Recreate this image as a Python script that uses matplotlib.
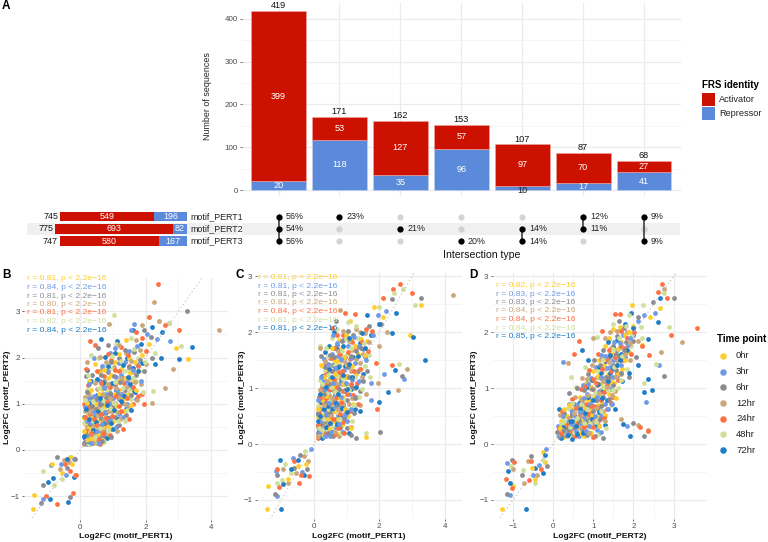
import matplotlib
matplotlib.use('Agg')
import matplotlib.pyplot as plt
from matplotlib.patches import Rectangle

plt.rcParams['font.family'] = ['Liberation Sans', 'DejaVu Sans']

W, H = 768, 542

# panel A
bar_activator = [399, 53, 127, 57, 97, 70, 27]
bar_repressor = [20, 118, 35, 96, 10, 17, 41]
bar_total = [419, 171, 162, 153, 107, 87, 68]
set_names = ['motif_PERT1', 'motif_PERT2', 'motif_PERT3']
set_activator = [549, 693, 580]
set_repressor = [196, 82, 167]
set_total = [745, 775, 747]
members = [[0, 1, 2], [0], [1], [2], [1, 2], [0, 1], [0, 2]]
member_pct = [[56, 54, 56], [23], [21], [20], [14, 14], [12, 11], [9, 9]]

ACT = '#CC1100'
REP = '#5B8ADB'

time_points = ['0hr', '3hr', '6hr', '12hr', '24hr', '48hr', '72hr']
time_colors = ['#FFCE2E', '#6F9AE8', '#8A8C92', '#CBA77B', '#FF7043', '#CFE09B', '#1F7DC6']

r_b = ['0.81', '0.84', '0.81', '0.80', '0.81', '0.82', '0.84']
r_c = ['0.81', '0.81', '0.81', '0.81', '0.84', '0.81', '0.81']
r_d = ['0.82', '0.83', '0.83', '0.84', '0.84', '0.84', '0.85']

b_0hr = [(-1.44,-1.27),(-1.4,-.97),(-.85,-.3),(-.55,-.5),(-.3,-.15),(-.25,-.3),(3.29,1.96),(2.93,2.21),(.15,.15),(.22,.3),(.3,.12),(.18,.55),(.25,.78),(.35,.42),(.42,.22),(.5,.62),(.2,1.02),(.4,.95),(.55,.35),(.62,.85),(.7,.5),(.32,1.3),(.8,.72),(.9,1.05),(.58,1.22),(1.0,.62),(.75,1.45),(1.1,.95),(1.2,1.3),(.95,1.62),(1.35,.85),(1.45,1.2),(1.6,1.5),(1.25,1.75),(1.8,1.7),(1.9,2.05),(.45,1.85),(2.1,2.3),(1.4,2.38),(.68,.22)]
b_0hr += [(.28,.5),(.36,.7),(.46,.44),(.52,1.0),(.64,.62),(.74,.94),(.86,.52),(.96,.86),(1.06,1.2),(.68,1.32),(.84,1.55),(1.14,1.46),(1.3,1.1),(1.52,1.66),(1.38,1.55),(1.66,1.9),(1.05,1.9),(.58,1.68),(1.18,2.08),(1.5,2.0),(.26,1.5),(.2,.22),(.12,.42),(.1,.7),(.72,1.72),(1.72,1.3),(1.56,.98),(.34,.24)]
b_3hr = [(-1.15,-1.06),(-.88,-.33),(-.6,-.3),(-.45,-.55),(-.2,-.2),(2.76,2.35),(1.65,2.72),(.12,.28),(.2,.12),(.28,.42),(.16,.7),(.38,.2),(.46,.55),(.3,.9),(.6,.3),(.52,.78),(.72,.42),(.24,1.12),(.66,1.02),(.85,.55),(.42,1.16),(.98,.85),(.8,1.22),(1.08,.5),(.6,1.5),(1.18,1.1),(1.3,.72),(.92,1.42),(1.42,1.0),(1.1,1.58),(1.55,1.35),(1.7,1.1),(1.38,1.9),(1.75,1.85),(.42,2.0),(.9,2.1),(2.05,2.5),(1.55,2.6),(2.35,2.4),(1.2,.78)]
b_3hr += [(.22,.62),(.34,.6),(.18,.26),(.42,.82),(.5,.42),(.56,1.08),(.68,.56),(.76,.82),(.9,.68),(.88,1.02),(1.0,1.12),(.72,1.34),(1.12,1.3),(.84,1.72),(1.26,1.2),(1.44,1.48),(1.26,1.62),(1.62,1.72),(.66,1.82),(1.18,1.88),(1.5,2.14),(.28,1.42),(.14,.92),(.56,.16),(1.86,1.5),(1.06,2.2),(1.75,2.25),(.32,.16)]
b_6hr = [(-1.19,-1.14),(-1.13,-.76),(-.7,-.15),(-.4,-.38),(-.32,-1.02),(-.15,-.2),(3.26,3.0),(2.7,2.75),(.18,.2),(.26,.15),(.14,.42),(.34,.3),(.4,.68),(.2,.92),(.5,.15),(.58,.52),(.32,1.12),(.74,.3),(.7,.82),(.18,1.6),(.5,1.1),(.9,.45),(.88,.98),(1.05,.72),(.68,1.35),(1.18,.55),(.85,1.68),(1.28,1.02),(1.4,.75),(1.05,1.4),(1.5,1.55),(1.65,1.28),(1.2,2.0),(1.95,1.7),(.85,2.28),(2.2,2.0),(2.15,2.45),(1.95,2.6),(.55,2.2),(.95,.28)]
b_6hr += [(.3,.56),(.24,.34),(.44,.4),(.36,.96),(.48,.88),(.62,.7),(.82,.6),(.78,1.12),(.98,.94),(.6,1.0),(.92,1.24),(.74,1.5),(1.16,1.22),(1.02,1.6),(1.36,1.3),(1.22,1.46),(1.56,1.18),(1.48,1.8),(1.72,1.62),(.36,1.62),(.62,1.62),(.94,1.9),(1.36,2.16),(1.65,2.12),(1.82,1.95),(.22,1.26),(.66,.2),(.12,.16)]
b_12hr = [(-.62,-.42),(-.35,-.25),(-.5,-.22),(-.15,-.55),(2.26,3.2),(4.23,2.59),(.89,2.72),(2.85,1.76),(2.58,1.35),(2.2,1.02),(.13,.12),(.24,.22),(.2,.5),(.3,.65),(.44,.36),(.14,.85),(.54,.2),(.36,.86),(.62,.64),(.8,.36),(.28,1.22),(.72,.95),(.5,1.32),(.96,.6),(1.05,1.02),(.82,1.15),(1.22,.68),(.62,1.72),(1.3,1.22),(1.02,1.8),(1.5,.92),(1.6,1.68),(1.85,1.42),(1.4,2.1),(1.72,2.38),(2.0,1.85),(2.4,2.78),(1.9,2.7),(.2,1.9),(1.12,.42)]
b_12hr += [(.18,.36),(.32,.3),(.28,.82),(.42,.54),(.5,.76),(.66,.42),(.58,.94),(.76,.66),(.88,.84),(.7,1.2),(.92,1.12),(1.14,.82),(1.2,1.14),(.86,1.42),(1.08,1.34),(1.38,1.0),(1.44,1.36),(1.24,1.56),(1.68,1.48),(1.56,1.92),(.44,1.45),(.8,1.9),(1.2,2.26),(1.84,2.16),(.16,1.14),(.4,.14),(1.74,1.08),(.6,2.02)]
b_24hr = [(2.37,3.58),(3.01,2.6),(-.71,-1.17),(-1.06,-1.0),(-.21,-.94),(-.12,-.55),(-.48,-.3),(-.3,-.45),(.16,.18),(.3,.25),(.22,.62),(.12,1.0),(.38,.5),(.48,.3),(.3,.78),(.6,.12),(.55,.95),(.76,.52),(.44,1.08),(.92,.32),(.66,1.18),(.86,.85),(1.12,.52),(.25,1.4),(1.0,1.15),(1.3,.45),(.72,1.6),(1.2,.95),(1.48,.68),(1.35,1.45),(.95,1.95),(1.62,1.0),(1.88,1.2),(1.5,1.82),(.45,2.28),(.3,2.35),(1.25,2.22),(2.1,2.88),(2.6,2.7),(2.0,2.15),(1.95,1.0)]
b_24hr += [(.2,.42),(.26,.94),(.42,.68),(.34,.36),(.52,.54),(.64,.78),(.58,.24),(.7,.36),(.82,1.04),(.78,.7),(.98,.74),(.92,1.36),(1.1,1.16),(.62,1.44),(1.26,.84),(1.42,1.12),(1.18,1.7),(1.6,1.36),(1.76,1.82),(.5,1.7),(.84,2.08),(1.06,1.74),(.18,1.76),(1.45,2.06),(1.9,2.42),(1.7,2.55),(.14,.72),(1.78,1.16)]
b_48hr = [(-1.14,-.45),(-.8,-.75),(-.55,-.62),(-.28,-.15),(1.03,2.91),(3.08,2.24),(2.24,1.27),(2.4,2.8),(2.72,2.75),(2.1,2.88),(.17,.32),(.12,.58),(.28,.12),(.35,.55),(.48,.45),(.24,.85),(.72,.18),(.56,.72),(.38,1.05),(.78,.62),(.62,1.06),(.2,1.3),(.95,.48),(.88,1.28),(1.1,.82),(.46,1.5),(.7,1.82),(1.25,1.12),(1.38,.62),(1.15,1.5),(1.55,1.1),(1.72,1.5),(1.45,1.72),(1.78,2.0),(1.1,2.3),(1.55,2.42),(2.3,2.1),(.32,2.05),(1.92,1.25),(.42,.14)]
b_48hr += [(.22,.18),(.3,.38),(.4,.62),(.5,.9),(.44,.28),(.6,.48),(.66,.88),(.84,.42),(.72,1.06),(.9,.9),(.8,1.32),(1.02,1.02),(1.16,.62),(.56,1.34),(1.3,1.34),(1.06,1.48),(.94,1.78),(1.34,1.7),(1.62,1.56),(1.5,1.3),(1.26,1.92),(.24,1.62),(.54,1.98),(1.64,2.18),(1.42,.86),(.16,1.08),(1.98,1.9),(.98,2.04)]
b_72hr = [(-.94,-1.07),(-.38,-1.12),(-.19,-.59),(-.82,-.6),(-.42,-.2),(-1.0,-.7),(3.41,2.22),(3.02,1.96),(.15,.25),(.2,.42),(.36,.16),(.12,.72),(.3,.52),(.45,.28),(.28,1.02),(.42,.72),(.64,.42),(.5,1.18),(.82,.25),(.76,.78),(.34,1.5),(.64,.98),(1.0,.45),(.92,1.2),(.22,1.72),(1.16,.68),(.78,1.35),(1.1,1.3),(1.4,.88),(.64,2.41),(1.6,1.78),(1.28,1.55),(1.68,1.25),(1.12,2.35),(1.6,2.6),(1.85,2.3),(2.2,2.65),(2.5,2.55),(2.47,2.0),(2.3,1.85)]
b_72hr += [(.24,.2),(.26,.66),(.38,.44),(.48,.6),(.54,.84),(.72,.58),(.6,1.12),(.86,.7),(.94,.58),(.82,.98),(1.04,.86),(.7,1.44),(.98,1.44),(1.24,1.06),(1.34,1.16),(1.46,1.58),(1.52,1.42),(1.76,1.7),(1.42,1.98),(.5,1.54),(.86,1.82),(.76,2.02),(1.3,1.84),(1.05,2.1),(1.9,1.88),(.12,.3),(.18,.88),(1.56,.86)]

# panel C
c_0hr = [(-1.43,-1.16),(-1.39,-.75),(-.8,-.62),(-.5,-.4),(-.25,-.35),(2.93,1.95),(3.29,2.48),(.12,.15),(.2,.3),(.14,.48),(.28,.12),(.34,.38),(.18,.72),(.46,.18),(.4,.62),(.24,.92),(.6,.42),(.52,.8),(.72,.18),(.35,1.05),(.7,.68),(.85,.35),(.58,1.02),(.9,.85),(.42,1.3),(1.05,.5),(.78,1.2),(1.1,1.05),(.6,1.5),(1.2,.72),(1.0,1.42),(1.3,1.25),(.85,1.72),(1.35,1.62),(1.15,1.9),(1.6,.12),(1.62,1.85),(1.85,2.45),(1.1,2.2),(2.1,2.28)]
c_0hr += [(.22,.2),(.3,.54),(.12,.62),(.26,.78),(.44,.44),(.5,.28),(.36,.86),(.62,.6),(.74,.44),(.48,1.14),(.68,.92),(.8,.82),(.96,.62),(.3,1.2),(.66,1.26),(.88,1.08),(1.02,1.2),(.72,1.48),(.92,1.56),(1.16,1.4),(1.26,1.76),(1.44,1.88),(.76,1.86),(.98,1.96),(1.56,1.6),(.54,1.72),(1.12,.28),(.22,1.42)]
c_3hr = [(-1.13,-.92),(-.09,-.08),(-1.15,-.48),(-.65,-.25),(-.35,-.5),(2.76,1.16),(2.15,1.25),(1.75,.78),(.16,.12),(.25,.2),(.13,.35),(.3,.48),(.42,.3),(.2,.62),(.5,.15),(.55,.58),(.28,.85),(.66,.3),(.42,.95),(.75,.52),(.3,1.15),(.62,.85),(.88,.22),(.9,.7),(.5,1.2),(1.02,.42),(.72,1.05),(1.08,.9),(.55,1.62),(1.15,1.15),(.92,1.32),(1.3,.85),(.75,1.58),(1.25,1.45),(1.05,1.75),(1.5,1.7),(1.75,1.1),(.58,1.95),(1.8,1.95),(2.2,2.38),(1.95,2.3)]
c_3hr += [(.18,.22),(.34,.14),(.24,.42),(.38,.56),(.46,.74),(.14,.78),(.56,.22),(.64,.66),(.34,.98),(.78,.36),(.82,.84),(.96,.52),(.58,1.1),(.84,1.1),(.44,1.44),(.98,1.1),(.66,1.36),(1.14,.62),(1.38,1.12),(1.12,1.54),(.84,1.52),(.9,1.86),(1.38,1.76),(1.6,1.5),(.3,1.52),(.7,1.8),(1.22,1.92),(.22,1.2)]
c_6hr = [(-1.19,-.9),(-1.14,-.56),(-.62,-.42),(-.42,-.2),(-.2,-.45),(3.26,2.61),(2.69,1.22),(2.01,.22),(2.4,2.6),(1.3,.11),(.14,.2),(.22,.12),(.18,.42),(.32,.28),(.28,.62),(.44,.42),(.15,.85),(.58,.15),(.38,.75),(.68,.45),(.24,1.05),(.52,.98),(.8,.28),(.82,.62),(.4,1.25),(.66,1.18),(1.0,.28),(1.0,.78),(.22,1.58),(.85,1.08),(1.22,.55),(.95,1.55),(1.18,1.02),(1.35,1.3),(.7,1.78),(1.42,.95),(1.55,1.55),(1.2,1.95),(.68,2.2),(1.7,2.12),(2.05,2.15)]
c_6hr += [(.26,.34),(.12,.54),(.36,.5),(.5,.56),(.42,.2),(.3,.9),(.6,.76),(.74,.7),(.92,.46),(.46,1.08),(.76,.98),(.96,.96),(.56,1.3),(.34,1.38),(.78,1.4),(1.08,1.2),(1.26,.82),(.62,1.56),(1.04,1.38),(1.14,1.58),(1.3,1.66),(.86,1.84),(1.44,1.72),(1.62,1.3),(1.04,2.02),(.48,1.6),(1.12,.16),(1.5,1.12)]
c_12hr = [(-.79,-.7),(-.55,-.52),(-.3,-.22),(-.18,-.3),(-.95,-.45),(4.24,2.67),(2.84,1.34),(2.58,.97),(.8,2.4),(2.0,1.75),(.12,.3),(.2,.2),(.26,.45),(.38,.14),(.16,.62),(.36,.55),(.5,.28),(.24,.8),(.62,.6),(.78,.15),(.46,.88),(.3,1.22),(.72,.38),(.6,.95),(.95,.55),(.86,.95),(.48,1.42),(1.12,.3),(1.06,.72),(.7,1.32),(1.25,1.0),(1.02,1.22),(.82,1.5),(1.42,.7),(1.4,1.45),(1.15,1.68),(1.55,1.98),(1.3,2.05),(.2,1.72),(1.95,1.1),(2.25,2.0)]
c_12hr += [(.3,.3),(.14,.14),(.42,.38),(.32,.7),(.52,.5),(.2,.96),(.66,.22),(.56,.82),(.74,.62),(.88,.72),(.4,1.12),(.68,1.1),(.8,1.2),(.92,1.08),(.56,1.54),(1.16,.82),(1.14,1.3),(.96,1.46),(.74,1.66),(1.28,1.52),(1.5,1.62),(1.48,1.2),(1.08,1.84),(1.4,2.0),(.9,2.02),(1.7,1.82),(.34,1.48),(1.6,.9)]
c_24hr = [(-1.06,-.76),(-.45,-.69),(-.14,-.57),(-1.12,-.45),(-.6,-.3),(-.4,-.55),(3.01,2.71),(2.63,2.86),(2.43,2.78),(2.4,1.41),(1.92,.63),(2.1,2.62),(.13,.1),(.24,.26),(.17,.55),(.35,.2),(.3,.72),(.48,.48),(.64,.18),(.22,.98),(.56,.7),(.4,1.1),(.74,.28),(.68,.82),(.9,.4),(.54,1.3),(.92,.95),(1.1,.6),(.3,1.42),(.76,1.28),(1.2,.88),(.98,1.2),(.62,1.72),(1.32,1.1),(1.1,1.52),(1.28,1.72),(.95,2.35),(1.25,2.32),(.9,1.95),(1.6,2.05),(1.9,1.45)]
c_24hr += [(.14,.34),(.28,.42),(.44,.3),(.38,.82),(.2,.82),(.58,.44),(.46,.98),(.8,.54),(.7,1.02),(.84,.76),(1.0,.9),(.34,1.24),(.62,1.16),(.86,1.3),(.48,1.54),(1.14,1.08),(1.34,.72),(.8,1.62),(1.04,1.64),(1.42,1.34),(1.18,1.82),(.72,1.96),(1.46,1.82),(1.66,1.66),(.56,2.08),(1.78,2.02),(.92,.2),(1.24,1.3)]
c_48hr = [(-1.14,-.69),(-.98,-.65),(-.7,-.52),(-.28,-.12),(-.88,-.35),(3.09,2.49),(2.73,2.78),(2.6,1.43),(1.58,.2),(2.45,2.7),(.15,.14),(.21,.4),(.12,.68),(.3,.15),(.36,.62),(.44,.24),(.26,.88),(.52,.52),(.18,1.15),(.46,.78),(.7,.58),(.84,.2),(.34,1.3),(.76,.98),(.98,.62),(.6,1.12),(.2,1.75),(1.0,1.05),(1.18,.42),(.8,1.42),(.25,1.4),(1.15,1.32),(1.38,.85),(1.0,1.62),(1.45,1.35),(.55,1.9),(.72,2.05),(1.35,1.9),(1.7,1.6),(2.0,2.45),(1.05,2.18)]
c_48hr += [(.26,.26),(.16,.28),(.32,.44),(.4,.92),(.56,.32),(.62,.68),(.52,1.02),(.8,.44),(.9,.78),(.66,.94),(.24,1.08),(.42,1.24),(.7,1.22),(.9,1.16),(.64,1.42),(1.08,.96),(1.24,.7),(.44,1.58),(1.26,1.2),(.86,1.66),(1.12,1.72),(1.56,1.4),(1.52,1.8),(.98,1.88),(1.28,2.12),(.36,1.72),(1.48,.98),(1.72,1.2)]
c_72hr = [(-1.02,-1.16),(-1.04,-.29),(-.95,-.72),(-.3,-.55),(-.5,-.28),(-.7,-.45),(3.41,1.51),(3.03,1.92),(2.47,1.33),(2.28,.93),(1.99,.76),(.16,.26),(.26,.1),(.14,.56),(.22,.75),(.4,.4),(.32,.98),(.56,.22),(.44,.68),(.64,.9),(.8,.5),(.26,1.22),(.58,1.42),(.9,.72),(.48,1.1),(1.08,.2),(.82,1.12),(.35,1.65),(1.12,.98),(.95,1.4),(1.25,.62),(.72,1.7),(1.2,1.55),(1.5,1.25),(1.4,1.8),(.62,2.0),(1.62,2.3),(1.75,1.95),(2.4,1.98),(2.5,2.35),(1.98,2.15)]
c_72hr += [(.12,.42),(.2,.5),(.3,.62),(.36,.3),(.5,.38),(.18,.9),(.54,.62),(.7,.36),(.38,1.02),(.68,.74),(.86,.64),(.74,.9),(.56,1.2),(1.0,.58),(.74,1.38),(1.02,.98),(.46,1.34),(.9,1.24),(1.18,1.2),(1.3,1.02),(1.08,1.44),(.88,1.76),(1.36,1.58),(.46,1.76),(1.56,1.72),(1.08,1.9),(1.42,.6),(1.46,1.98)]

# panel D
d_0hr = [(-1.28,-1.16),(-.99,-.75),(-.25,-.15),(-.2,-.32),(-.45,-.62),(-.52,-.42),(1.96,2.48),(2.65,2.43),(2.4,2.28),(.15,.18),(.25,.12),(.38,.28),(.5,.14),(.2,.42),(.62,.3),(.35,.5),(.78,.15),(.72,.45),(.5,.62),(.92,.3),(.9,.62),(.68,.85),(1.08,.5),(1.05,.85),(.82,1.1),(1.22,.72),(1.2,1.08),(1.0,1.3),(1.38,.9),(1.36,1.25),(1.15,1.5),(1.52,1.1),(1.55,1.5),(1.3,1.75),(1.72,1.35),(1.7,1.82),(1.5,2.05),(1.88,1.65),(2.0,2.12),(2.22,1.78),(.95,.2)]
d_0hr += [(.3,.34),(.44,.22),(.56,.42),(.28,.62),(.66,.2),(.74,.66),(.84,.38),(.4,.7),(.98,.52),(.86,.78),(1.14,.32),(1.12,.7),(.94,1.02),(1.28,.52),(1.3,.98),(1.12,1.22),(1.44,1.12),(1.26,1.42),(1.62,1.28),(1.48,1.62),(1.62,1.7),(1.4,1.9),(1.8,1.5),(1.78,1.96),(1.56,.82),(1.66,2.1),(1.9,2.0),(.18,.28)]
d_3hr = [(-1.06,-.91),(-1.15,-.33),(-.17,-.08),(-.35,-.38),(-.5,-.55),(2.54,2.35),(2.64,1.42),(2.3,.76),(1.84,.32),(.24,1.46),(.12,.32),(.22,.2),(.32,.4),(.45,.2),(.55,.5),(.65,.14),(.4,.72),(.7,.35),(.82,.55),(.62,.72),(.98,.4),(.85,.9),(1.1,.25),(1.02,.68),(.75,1.05),(1.18,.5),(1.15,.95),(.95,1.18),(1.3,.72),(1.28,1.12),(1.08,1.38),(1.42,.98),(1.42,1.38),(1.2,1.6),(1.6,1.22),(1.58,1.68),(1.4,1.88),(1.8,1.55),(1.75,1.95),(2.1,2.2),(2.25,2.3)]
d_3hr += [(.16,.14),(.26,.5),(.34,.18),(.48,.36),(.58,.24),(.46,.6),(.76,.48),(.68,.58),(.92,.72),(.82,.24),(.9,.32),(1.04,.5),(.78,.82),(1.1,.84),(1.2,.22),(.88,1.08),(1.36,.62),(1.2,1.2),(1.34,1.36),(1.5,1.2),(1.48,1.5),(1.3,1.58),(1.68,1.42),(1.66,1.8),(1.52,1.82),(1.86,1.78),(1.92,1.9),(1.46,.72)]
d_6hr = [(-1.15,-.9),(-1.03,-.29),(-.78,-.56),(-.55,-.22),(-.15,-.4),(3.01,2.61),(2.77,1.22),(2.48,2.55),(2.0,.37),(2.25,.15),(1.25,.11),(.1,.22),(.18,.3),(.3,.16),(.42,.38),(.28,.55),(.58,.22),(.52,.72),(.72,.25),(.75,.62),(.4,.92),(.9,.48),(.95,.8),(.6,1.0),(1.05,.15),(1.12,.62),(1.1,1.05),(.88,1.25),(1.25,.85),(1.32,1.2),(1.02,1.5),(1.48,1.05),(1.5,1.42),(1.25,1.68),(1.65,1.58),(1.48,1.75),(1.82,1.82),(2.05,1.55),(1.65,2.2),(2.12,2.28),(1.9,1.2)]
d_6hr += [(.2,.16),(.36,.26),(.5,.28),(.46,.52),(.64,.42),(.68,.68),(.82,.42),(.84,.16),(1.0,.6),(.88,.66),(1.06,.78),(.78,.96),(1.16,.44),(.98,.98),(1.2,.68),(1.18,1.18),(1.4,.8),(1.4,1.2),(1.16,1.42),(1.56,1.32),(1.38,1.56),(1.7,1.28),(1.56,1.62),(1.58,1.94),(1.98,1.84),(1.76,1.68),(1.76,2.08),(.26,.24)]
d_12hr = [(-.71,-.7),(-.62,-.3),(-.4,-.55),(-1.0,-.45),(3.21,1.82),(2.77,2.78),(2.11,.35),(2.68,1.65),(2.36,.25),(.37,1.45),(.14,.12),(.24,.38),(.35,.14),(.48,.32),(.18,.52),(.6,.4),(.42,.62),(.8,.22),(.78,.72),(.55,.85),(.95,.55),(.92,1.0),(1.15,.32),(1.1,.78),(.72,1.18),(1.25,.6),(1.22,.98),(.98,1.42),(1.38,.78),(1.4,1.15),(1.1,1.2),(1.55,.95),(1.48,1.6),(1.3,1.9),(1.7,1.25),(1.65,1.72),(1.0,1.9),(1.92,1.5),(1.85,2.0),(2.1,1.85),(1.7,.45)]
d_12hr += [(.3,.24),(.22,.28),(.4,.46),(.54,.2),(.66,.3),(.52,.56),(.72,.54),(.86,.5),(.7,.8),(.9,.2),(1.02,.42),(.88,.88),(1.06,.64),(1.14,.92),(.84,1.16),(1.3,.42),(1.24,1.12),(1.46,.88),(1.34,1.02),(1.18,1.52),(1.56,1.2),(1.6,1.5),(1.38,1.46),(1.44,1.72),(1.78,1.62),(1.92,1.8),(1.42,2.0),(1.6,2.02)]
d_24hr = [(-1.18,-.62),(-1.03,-.78),(-.96,-.32),(-.6,-.65),(-.55,-.3),(-.3,-.45),(3.59,2.07),(2.93,1.95),(2.71,2.86),(2.84,2.62),(2.6,2.72),(1.67,2.33),(2.36,.23),(2.17,.31),(.53,1.62),(.65,1.85),(.16,.28),(.28,.25),(.4,.46),(.22,.6),(.55,.14),(.66,.52),(.48,.8),(.85,.35),(.85,.72),(1.0,.98),(.7,.98),(1.12,.42),(1.2,.78),(.9,1.32),(1.35,.62),(1.35,1.05),(1.12,1.62),(1.5,.85),(1.58,1.28),(1.22,2.02),(1.75,1.5),(1.8,1.72),(2.38,1.6),(2.2,1.75),(1.55,2.32),(1.0,.12)]
d_24hr += [(.34,.34),(.46,.22),(.6,.36),(.56,.64),(.76,.3),(.72,.78),(.9,.54),(1.0,.3),(.96,.68),(.8,1.04),(1.08,.66),(1.06,1.1),(1.26,.46),(1.26,.94),(1.0,1.16),(1.44,.74),(1.44,1.3),(1.22,1.34),(1.62,1.14),(1.34,1.5),(1.54,1.56),(1.68,1.76),(1.38,1.68),(1.94,1.62),(1.84,1.9),(2.02,2.0),(1.7,2.02),(.2,.2)]
d_48hr = [(-1.08,-.7),(-1.05,-.4),(-.75,-.46),(-.45,-.7),(-.25,-.28),(2.89,2.09),(2.55,1.44),(2.23,2.49),(1.5,2.15),(2.75,2.7),(.13,.15),(.26,.46),(.36,.22),(.5,.42),(.44,1.2),(.62,.6),(.72,.18),(.38,.65),(.88,.45),(.8,.82),(.58,1.02),(1.0,.62),(1.02,1.12),(.8,1.38),(1.15,.18),(1.28,.5),(1.18,.88),(1.3,1.35),(1.45,.7),(1.42,1.05),(1.1,1.92),(1.62,1.0),(1.62,1.42),(1.4,1.62),(1.85,1.35),(2.2,1.9),(1.95,1.75),(2.25,1.1),(2.18,2.1),(1.32,.28),(1.9,2.3)]
d_48hr += [(.2,.36),(.3,.2),(.42,.3),(.52,.22),(.6,.46),(.46,.74),(.76,.38),(.7,.72),(.92,.38),(.84,.62),(.94,.86),(1.08,.4),(1.04,.92),(.9,1.12),(1.2,.6),(1.24,1.02),(1.36,.96),(1.1,1.3),(1.5,.96),(1.52,1.38),(1.24,1.5),(1.7,1.14),(1.72,1.58),(1.5,1.7),(1.64,1.9),(1.96,1.96),(1.82,2.12),(.28,.42)]
d_72hr = [(-.67,-1.16),(-1.13,-.48),(-.25,-.52),(-.45,-.42),(-1.06,-.7),(-.2,-.2),(2.65,2.61),(2.62,2.19),(1.94,2.34),(2.47,.97),(2.26,.94),(2.36,1.17),(1.92,.14),(1.73,.36),(.71,1.68),(.15,.62),(.2,.1),(.46,.09),(.32,.32),(.5,.25),(.62,.45),(.46,.55),(.78,.38),(.68,.75),(.92,.2),(.92,.72),(.85,1.02),(1.08,.35),(.88,1.5),(1.12,1.08),(1.28,.35),(1.25,.95),(1.15,1.38),(1.42,1.28),(1.55,.62),(1.5,1.72),(1.72,1.12),(1.7,1.62),(2.35,1.88),(2.0,1.95),(2.1,1.42),(1.8,2.15)]
d_72hr += [(.26,.3),(.38,.16),(.42,.42),(.56,.32),(.66,.62),(.6,.18),(.74,.2),(.8,.56),(.96,.44),(.88,.84),(1.0,.78),(1.14,.58),(.96,1.14),(1.22,.82),(1.34,.78),(1.36,1.12),(1.2,1.28),(1.48,1.36),(1.3,1.48),(1.6,1.42),(1.42,1.6),(1.6,1.86),(1.84,1.68),(1.36,1.82),(1.9,1.28),(1.66,1.5),(1.98,2.08),(.48,.42)]

fig = plt.figure(figsize=(W / 100, H / 100), dpi=100)


def px_axes(left, top, right, bottom):
    return fig.add_axes([left / W, 1 - bottom / H, (right - left) / W, (bottom - top) / H])


def px_text(x, y, s, **kw):
    kw.setdefault('va', 'center')
    fig.text(x / W, 1 - y / H, s, **kw)


def style_grid(ax):
    for s in ax.spines.values():
        s.set_visible(False)
    ax.set_axisbelow(True)
    ax.grid(True, which='major', color='#EBEBEB', lw=0.9)
    ax.grid(True, which='minor', color='#F2F2F2', lw=0.5)
    ax.tick_params(which='major', length=1.5, width=0.5, color='#333333', labelsize=5.8,
                   labelcolor='#4D4D4D', pad=1.5)
    ax.tick_params(which='minor', length=0)


# panel A: stacked bars
ax = px_axes(242, 3, 680.6, 196)
style_grid(ax)
cols = list(range(len(bar_total)))
ax.bar(cols, bar_repressor, width=0.9, color=REP, edgecolor='#C5D3F0', lw=0.4)
ax.bar(cols, bar_activator, width=0.9, bottom=bar_repressor, color=ACT, edgecolor='#EFA9A0', lw=0.4)
for i in cols:
    ax.text(i, bar_total[i] + 1, str(bar_total[i]), ha='center', va='bottom', fontsize=6.6, color='#111111')
    ax.text(i, bar_repressor[i] + bar_activator[i] / 2, str(bar_activator[i]), ha='center', va='center',
            fontsize=6.6, color='white')
    if bar_repressor[i] > 10:
        ax.text(i, bar_repressor[i] / 2, str(bar_repressor[i]), ha='center', va='center', fontsize=6.6,
                color='white')
    else:
        ax.text(i, 0, str(bar_repressor[i]), ha='center', va='center', fontsize=6.6, color='#222222')
ax.set_xlim(-0.6, 6.6)
ax.set_ylim(-14, 437)
ax.set_xticks(cols)
ax.set_xticklabels([])
ax.set_yticks([0, 100, 200, 300, 400])
ax.set_yticks([50, 150, 250, 350], minor=True)
ax.tick_params(axis='x', length=0)
px_text(207, 96, 'Number of sequences', fontsize=6.4, color='#222222', rotation=90, ha='center')

# grey band behind the middle row
for x0, x1 in [(27, 238), (242, 680)]:
    fig.add_artist(Rectangle((x0 / W, 1 - 235 / H), (x1 - x0) / W, 12 / H, transform=fig.transFigure,
                             color='#F0F0F0', lw=0, zorder=-1))

# set size bars
ax = px_axes(27, 210, 187, 247.3)
ax.patch.set_alpha(0)
ax.axis('off')
rows = list(range(len(set_names)))
ax.barh(rows, set_repressor, height=0.8, color=REP)
ax.barh(rows, set_activator, height=0.8, left=set_repressor, color=ACT)
for i in rows:
    ax.text(set_repressor[i] / 2, i, str(set_repressor[i]), ha='center', va='center', fontsize=6.4, color='white')
    ax.text(set_repressor[i] + set_activator[i] / 2, i, str(set_activator[i]), ha='center', va='center',
            fontsize=6.4, color='white')
    ax.text(set_total[i] + 10, i, str(set_total[i]), ha='right', va='center', fontsize=6.4, color='#111111')
    ax.text(-18, i, set_names[i], ha='left', va='center', fontsize=6.4, color='#222222')
ax.set_xlim(938, 0)
ax.set_ylim(2.5, -0.53)

# membership matrix
ax = px_axes(242, 210, 680.6, 247.3)
ax.patch.set_alpha(0)
ax.axis('off')
for i in cols:
    ax.scatter([i] * 3, rows, s=20, color='#D3D3D3', lw=0, zorder=2)
    on = members[i]
    if len(on) > 1:
        ax.plot([i, i], [min(on), max(on)], color='#333333', lw=1.1, zorder=3)
    ax.scatter([i] * len(on), on, s=20, color='black', lw=0, zorder=4)
    for r, p in zip(on, member_pct[i]):
        ax.text(i + 0.11, r, f'{p}%', ha='left', va='center', fontsize=6.4, color='#222222')
ax.set_xlim(-0.6, 6.6)
ax.set_ylim(2.5, -0.53)
px_text(482, 255, 'Intersection type', ha='center', fontsize=7.6, color='#111111')

# panel A legend
px_text(702, 85, 'FRS identity', fontsize=7, fontweight='bold', color='black')
for y0, c, name in [(93, ACT, 'Activator'), (107, REP, 'Repressor')]:
    fig.add_artist(Rectangle((702 / W, 1 - (y0 + 12.5) / H), 13 / W, 12.5 / H, transform=fig.transFigure,
                             color=c, lw=0))
    px_text(719, y0 + 6.5, name, fontsize=6.6, color='#222222')


def scatter_panel(box, xlim, ylim, xticks, yticks, series, r_vals, xlabel, ylabel, text_x, text_ys, ylabel_x):
    ax = px_axes(*box)
    style_grid(ax)
    # shuffled look: draw point by point across the time points
    longest = max(len(s) for s in series)
    for i in range(longest):
        for s, c in zip(series, time_colors):
            if i < len(s):
                ax.scatter(s[i][0], s[i][1], s=12, color=c, lw=0, zorder=3)
    ax.plot([-3, 6], [-3, 6], color='#BDBDBD', lw=0.8, ls=(0, (1, 2.5)), zorder=4)
    ax.set_xlim(xlim)
    ax.set_ylim(ylim)
    ax.set_xticks(xticks)
    ax.set_yticks(yticks)
    ax.set_xticks([(a + b) / 2 for a, b in zip(xticks, xticks[1:])], minor=True)
    ax.set_yticks([(a + b) / 2 for a, b in zip(yticks, yticks[1:])], minor=True)
    ax.set_xticklabels([str(t).replace('-', '\u2212') for t in xticks])
    ax.set_yticklabels([str(t).replace('-', '\u2212') for t in yticks])
    px_text((box[0] + box[2]) / 2, 536, xlabel, fontsize=6.1, fontweight='bold', color='#111111', ha='center')
    px_text(ylabel_x, 397, ylabel, fontsize=6.1, fontweight='bold', color='#111111', ha='center', rotation=90)
    for r, c, y in zip(r_vals, time_colors, text_ys):
        px_text(text_x, y, f'r = {r}, p < 2.2e\u221216', color=c, fontsize=6.1, zorder=10)
    return ax


b_series = [b_0hr, b_3hr, b_6hr, b_12hr, b_24hr, b_48hr, b_72hr]
c_series = [c_0hr, c_3hr, c_6hr, c_12hr, c_24hr, c_48hr, c_72hr]
d_series = [d_0hr, d_3hr, d_6hr, d_12hr, d_24hr, d_48hr, d_72hr]

scatter_panel((24, 278, 228, 520), (-1.72, 4.52), (-1.515, 3.72), [0, 2, 4], [-1, 0, 1, 2, 3], b_series, r_b,
              'Log2FC (motif_PERT1)', 'Log2FC (motif_PERT2)', 26.7,
              [279, 287.7, 296, 304.7, 313, 321.7, 330.3], 8)
scatter_panel((256.7, 273, 461.7, 519), (-1.75, 4.52), (-1.34, 3.06), [0, 2, 4], [-1, 0, 1, 2, 3], c_series, r_c,
              'Log2FC (motif_PERT1)', 'Log2FC (motif_PERT3)', 258,
              [277.7, 286, 294.3, 303, 311.3, 320, 328.7], 242)
scatter_panel((492.7, 273, 706.7, 519), (-1.5, 3.82), (-1.34, 3.06), [-1, 0, 1, 2, 3], [-1, 0, 1, 2, 3], d_series, r_d,
              'Log2FC (motif_PERT2)', 'Log2FC (motif_PERT3)', 496,
              [285.3, 294, 302, 310.7, 319.3, 328, 336.7], 474)

# panel letters
for x, y, s in [(2, 6, 'A'), (2, 275, 'B'), (235, 275, 'C'), (469, 275, 'D')]:
    px_text(x, y, s, fontsize=8.5, fontweight='bold', color='black')

# time point legend
px_text(716.7, 339, 'Time point', fontsize=7, fontweight='bold', color='black')
leg = fig.add_axes([0, 0, 1, 1])
leg.patch.set_alpha(0)
leg.axis('off')
leg.set_xlim(0, W)
leg.set_ylim(H, 0)
legend_ys = [355.7, 371.7, 387.3, 403, 418.7, 434.3, 450.3]
for name, c, y in zip(time_points, time_colors, legend_ys):
    leg.scatter(723, y, s=22, color=c, lw=0)
    leg.text(736, y, name, va='center', fontsize=6.8, color='#222222')

fig.savefig('out.png', dpi=100)
